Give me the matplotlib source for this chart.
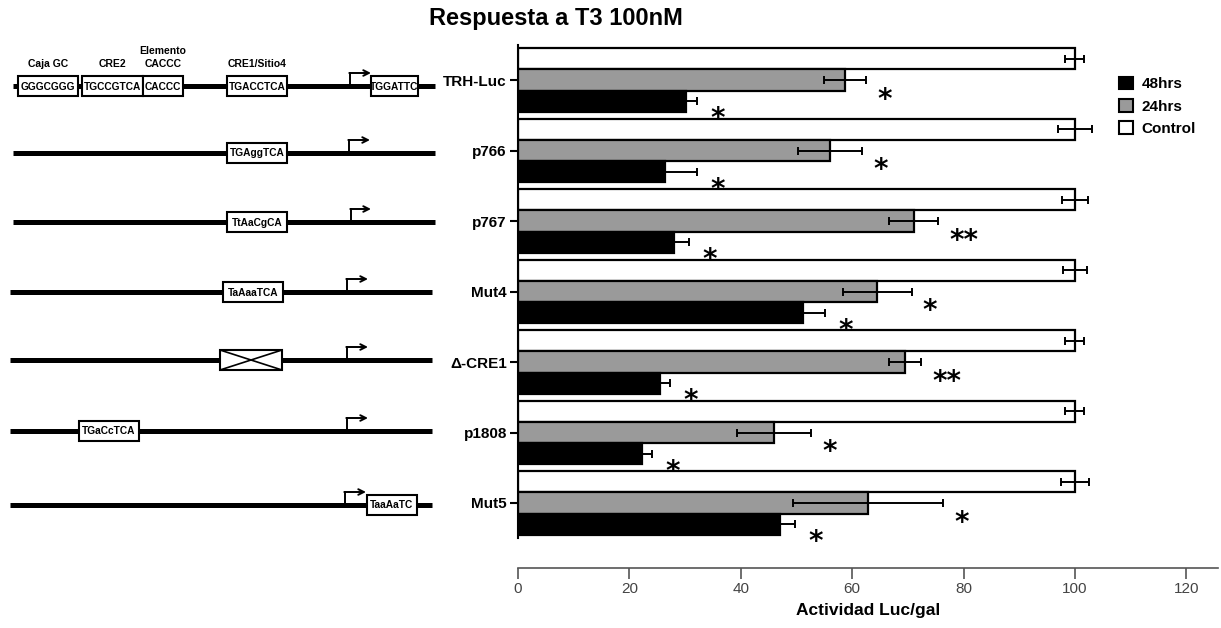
"""
Respuesta a T3 100nM - luciferase activity per construct, with promoter sketches
"""

import numpy as np
import matplotlib
matplotlib.use("Agg")
import matplotlib.pyplot as plt
from matplotlib.patches import Rectangle, Patch

plt.rcParams['font.family'] = ['Liberation Sans', 'DejaVu Sans']

# Data
constructs = ['TRH-Luc', 'p766', 'p767', 'Mut4', 'Δ-CRE1', 'p1808', 'Mut5']
control = [100, 100, 100, 100, 100, 100, 100]
control_err = [1.7, 3.1, 2.4, 2.1, 1.7, 1.7, 2.5]
hrs24 = [58.7, 56.0, 71.1, 64.5, 69.5, 46.0, 62.8]
hrs24_err = [3.8, 5.8, 4.4, 6.2, 2.9, 6.7, 13.5]
hrs48 = [30.2, 26.4, 28.0, 51.1, 25.5, 22.3, 47.0]
hrs48_err = [2.0, 5.8, 2.7, 4.0, 1.8, 1.7, 2.7]
sig24 = ['*', '*', '**', '*', '**', '*', '*']
sig48 = ['*', '*', '*', '*', '*', '*', '*']

# Promoter sketches: (start, end) of the line, boxes (x0, x1, text), arrow x range
line_span = [(13, 435), (13, 435), (13, 435), (10, 432), (10, 432), (10, 432), (10, 432)]
line_shift = [6, 2.5, 1, 0.5, -2, -1.5, 2]  # pixels, relative to the bar group centre
boxes = [
    [(18, 78, 'GGGCGGG'), (82, 143, 'TGCCGTCA'), (143, 183, 'CACCC'),
     (227, 287, 'TGACCTCA'), (371, 418, 'TGGATTC')],
    [(227, 287, 'TGAggTCA')],
    [(227, 287, 'TtAaCgCA')],
    [(223, 283, 'TaAaaTCA')],
    [(220, 282, None)],
    [(79, 139, 'TGaCcTCA')],
    [(367, 417, 'TaaAaTC')],
]
arrows = [(350, 371), (349, 370), (351, 371), (347, 368), (347, 368), (347, 368), (345, 366)]
site_labels = [(48, 'Caja GC'), (112, 'CRE2'), (163, 'Elemento\nCACCC'), (257, 'CRE1/Sitio4')]

W, H = 1221, 628
fig = plt.figure(figsize=(W / 100, H / 100), dpi=100)

ax_left, ax_right = 518, 1218
ax_top, ax_bot = 44.75, 538.25
ax = fig.add_axes([ax_left / W, 1 - ax_bot / H, (ax_right - ax_left) / W, (ax_bot - ax_top) / H])
sk = fig.add_axes([0, 1 - ax_bot / H, 450 / W, (ax_bot - ax_top) / H], sharey=ax)

y = np.arange(len(constructs))
h = 0.3
ec = 'black'
lw = 1.6
px = 1 / 70.5  # one pixel in y data units

ax.barh(y - h, control, height=h, color='white', edgecolor=ec, linewidth=lw, zorder=2)
ax.barh(y, hrs24, height=h, color='#9a9a9a', edgecolor=ec, linewidth=lw, zorder=2)
ax.barh(y + h, hrs48, height=h, color='black', edgecolor=ec, linewidth=lw, zorder=2)

eb = dict(fmt='none', ecolor='black', elinewidth=1.4, capsize=3, capthick=1.4, zorder=3)
ax.errorbar(control, y - h, xerr=control_err, **eb)
ax.errorbar(hrs24, y, xerr=hrs24_err, **eb)
ax.errorbar(hrs48, y + h, xerr=hrs48_err, **eb)

for i in range(len(constructs)):
    ax.text(hrs24[i] + hrs24_err[i] + 2.0, y[i] + 0.28, sig24[i], fontsize=20,
            fontweight='bold', family='DejaVu Sans', ha='left', va='center')
    ax.text(hrs48[i] + hrs48_err[i] + 2.4, y[i] + h + 0.26, sig48[i], fontsize=20,
            fontweight='bold', family='DejaVu Sans', ha='left', va='center')

ax.set_xlim(0, 125.7)
ax.set_ylim(len(constructs) - 0.5, -0.5)
ax.set_yticks(y)
ax.set_yticklabels(constructs, fontsize=11, fontweight='bold')
ax.set_xticks(np.arange(0, 121, 20))
ax.tick_params(axis='y', length=6, width=1.5, pad=2)
ax.tick_params(axis='x', length=8, width=1.2, pad=2, labelsize=11, colors='#555555',
               labelcolor='#444444')
ax.spines['top'].set_visible(False)
ax.spines['right'].set_visible(False)
ax.spines['left'].set_linewidth(1.5)
ax.spines['bottom'].set_position(('outward', 21.5))
ax.spines['bottom'].set_color('#555555')
ax.spines['bottom'].set_linewidth(1.2)
ax.set_xlabel('Actividad Luc/gal', fontsize=12.5, fontweight='bold', labelpad=5)

fig.text(556 / W, 1 - 18 / H, 'Respuesta a T3 100nM', fontsize=17, fontweight='bold',
         ha='center', va='center')

handles = [Patch(facecolor='black', edgecolor='black', linewidth=1.5),
           Patch(facecolor='#9a9a9a', edgecolor='black', linewidth=1.5),
           Patch(facecolor='white', edgecolor='black', linewidth=1.5)]
fig.legend(handles, ['48hrs', '24hrs', 'Control'], loc='upper left',
           bbox_to_anchor=(1105 / W, 1 - 63 / H), frameon=False,
           prop=dict(size=11, weight='bold'), handlelength=0.9, handleheight=0.9,
           handletextpad=0.6, labelspacing=0.5)

# promoter sketches
sk.set_xlim(0, 450)
sk.axis('off')
box_h = 20 * px
for i in range(len(constructs)):
    yc = y[i] + line_shift[i] * px
    x0, x1 = line_span[i]
    sk.plot([x0, x1], [yc, yc], color='black', linewidth=3.6, solid_capstyle='butt', zorder=1)
    for bx0, bx1, txt in boxes[i]:
        sk.add_patch(Rectangle((bx0, yc - box_h / 2), bx1 - bx0, box_h, facecolor='white',
                               edgecolor='black', linewidth=1.5, zorder=2))
        if txt is None:
            sk.plot([bx0, bx1], [yc - box_h / 2, yc + box_h / 2], color='black', lw=1.2, zorder=3)
            sk.plot([bx0, bx1], [yc + box_h / 2, yc - box_h / 2], color='black', lw=1.2, zorder=3)
        else:
            sk.text((bx0 + bx1) / 2, yc + 0.5 * px, txt, fontsize=7.3, fontweight='bold',
                    ha='center', va='center', zorder=3)
    a0, a1 = arrows[i]
    top = yc - 13 * px
    sk.plot([a0, a0], [yc - 2 * px, top], color='black', lw=1.4, zorder=3)
    sk.annotate('', xy=(a1, top), xytext=(a0 - 0.7, top),
                arrowprops=dict(arrowstyle='->', lw=1.4, color='black',
                                shrinkA=0, shrinkB=0, mutation_scale=10), zorder=3)

yc0 = y[0] + line_shift[0] * px
for lx, txt in site_labels:
    sk.text(lx, yc0 - 17 * px, txt, fontsize=7.5, fontweight='bold', ha='center',
            va='bottom', linespacing=1.4)

fig.savefig('out.png', dpi=100)
